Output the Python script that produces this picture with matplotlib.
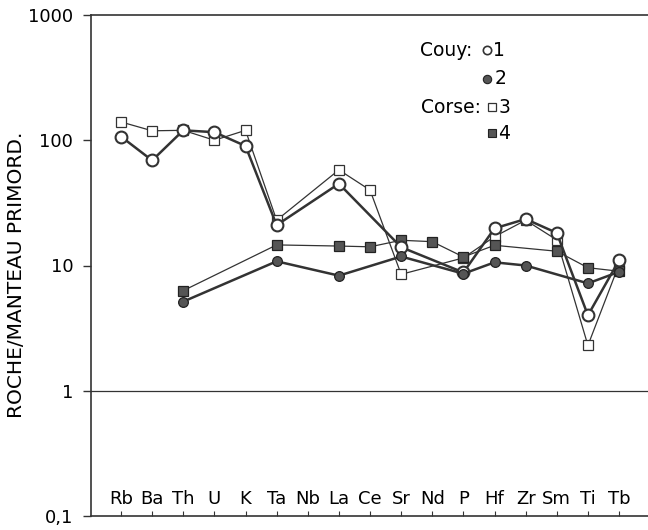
import numpy as np
import matplotlib
matplotlib.use("Agg")
import matplotlib.pyplot as plt

plt.rcParams["font.family"] = ["DejaVu Sans"]

elements = ["Rb", "Ba", "Th", "U", "K", "Ta", "Nb", "La", "Ce",
            "Sr", "Nd", "P", "Hf", "Zr", "Sm", "Ti", "Tb"]

# * Couy 1 (cercles vides), Couy 2 (cercles pleins)
couy_1 = [107, 69, 120, 116, 90, 21, None, 45, None,
          14, None, 8.8, 19.8, 23.5, 18.2, 4.0, 11]
couy_2 = [None, None, 5.15, None, None, 10.8, None, 8.3, None,
          11.8, None, 8.6, 10.6, 10.0, None, 7.2, 8.9]
# * Corse 3 (carres vides), Corse 4 (carres pleins)
corse_3 = [140, 119, 120, 100, 120, 23, None, 58, 40,
           8.5, None, 11.5, 17, 23, 16, 2.3, 10.2]
corse_4 = [None, None, 6.3, None, None, 14.6, None, 14.3, 14.1,
           15.9, 15.5, 11.7, 14.5, None, 13, 9.6, 9.0]

y_ticks = [0.1, 1, 10, 100, 1000]
y_tick_labels = ["0,1", "1", "10", "100", "1000"]

LINE = "#333333"
FILL = "#555555"


def points(values):
    x = [i for i, v in enumerate(values) if v is not None]
    y = [v for v in values if v is not None]
    return x, y


fig = plt.figure(figsize=(6.48, 5.30), dpi=100)
ax = fig.add_axes([91 / 648, 14 / 530, 557 / 648, 501 / 530])

# * courbes fines (Corse)
x, y = points(corse_3)
ax.plot(x, y, color=LINE, lw=0.9, marker="s", ms=7, mfc="white",
        mec=LINE, mew=0.9, zorder=3)
x, y = points(corse_4)
ax.plot(x, y, color=LINE, lw=0.9, marker="s", ms=7, mfc=FILL,
        mec="#222222", mew=0.9, zorder=3)

# * courbes epaisses (Couy)
x, y = points(couy_1)
ax.plot(x, y, color=LINE, lw=1.8, marker="o", ms=8.5, mfc="white",
        mec=LINE, mew=1.5, zorder=4)
x, y = points(couy_2)
ax.plot(x, y, color=LINE, lw=1.8, marker="o", ms=7, mfc=FILL,
        mec="#222222", mew=0.9, zorder=4)

ax.set_yscale("log")
ax.set_ylim(0.1, 1000)
ax.set_xlim(-0.964, 16.93)
ax.axhline(1, color=LINE, lw=0.9, zorder=1)

ax.set_yticks(y_ticks)
ax.set_yticklabels(y_tick_labels)
ax.yaxis.set_minor_locator(matplotlib.ticker.NullLocator())
ax.tick_params(axis="y", direction="out", length=5.8, width=1,
               color=LINE, labelsize=13, pad=7)

ax.set_xticks(range(len(elements)))
ax.set_xticklabels(elements)
ax.tick_params(axis="x", direction="in", length=3.5, width=0.8,
               color=LINE, labelsize=13, pad=-19)

ax.spines["right"].set_visible(False)
for s in ["left", "top", "bottom"]:
    ax.spines[s].set_color(LINE)
    ax.spines[s].set_linewidth(1.2)

ax.set_ylabel("ROCHE/MANTEAU PRIMORD.", fontsize=14.5)
ax.yaxis.set_label_coords(-0.117, 0.481)

# * legende
tr = ax.transAxes
ax.text(0.684, 0.930, "Couy:", transform=tr, ha="right", va="center",
        fontsize=13.5)
ax.plot([0.711], [0.930], transform=tr, marker="o", ms=6, mfc="white",
        mec=LINE, mew=1.2, ls="none", clip_on=False)
ax.text(0.722, 0.930, "1", transform=tr, ha="left", va="center",
        fontsize=13.5)
ax.plot([0.711], [0.873], transform=tr, marker="o", ms=6, mfc=FILL,
        mec="#222222", mew=0.8, ls="none", clip_on=False)
ax.text(0.724, 0.873, "2", transform=tr, ha="left", va="center",
        fontsize=13.5)
ax.text(0.700, 0.816, "Corse:", transform=tr, ha="right", va="center",
        fontsize=13.5)
ax.plot([0.720], [0.816], transform=tr, marker="s", ms=5.5, mfc="white",
        mec=LINE, mew=0.9, ls="none", clip_on=False)
ax.text(0.731, 0.816, "3", transform=tr, ha="left", va="center",
        fontsize=13.5)
ax.plot([0.720], [0.764], transform=tr, marker="s", ms=5.5, mfc=FILL,
        mec="#222222", mew=0.8, ls="none", clip_on=False)
ax.text(0.731, 0.764, "4", transform=tr, ha="left", va="center",
        fontsize=13.5)

fig.savefig("out.png", dpi=100)
